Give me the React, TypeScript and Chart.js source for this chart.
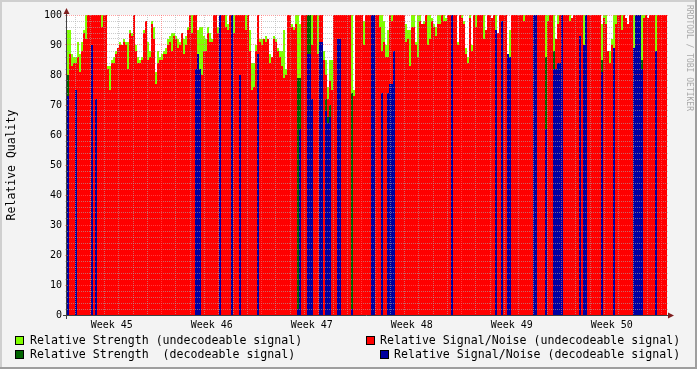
import React, { useEffect, useRef } from 'react';
import { Chart, registerables } from 'chart.js';

Chart.register(...registerables);

// One sample per ~3.4 h across six weeks (Week 45 .. Week 50).
// Undecodeable-signal samples (null = sample fully decodeable)
const snrUndec = [
  null, 87, 83, 84, 84, 86, 81, 88, 94, 92,
  100, 100, 100, 100, 100, 100, 100, 96, 100, 100,
  82, 75, 84, 84, 87, 89, 90, 90, 91, 90,
  82, 94, 93, 100, 88, 84, 84, 85, 94, 98,
  85, 86, 97, 92, 77, 84, 85, 85, 87, 87,
  90, 91, 88, 93, 92, 89, 90, 94, 87, 90,
  95, 100, 94, 100, 100, 87, 82, 80, 88, 88,
  94, 91, 91, 100, 100, 94, null, 100, 100, 96,
  95, 100, null, 94, 100, 100, 100, 100, 100, 95,
  100, 88, 75, 76, 88, 100, 91, 90, 92, 91,
  92, 84, 86, 92, 91, 88, 86, 83, 79, 80,
  100, 100, 96, 95, 97, null, null, 100, 100, 100,
  null, null, 90, 100, 100, 87, 100, 100, 85, 80,
  72, 78, 75, 100, 100, 100, 100, 100, 100, 100,
  100, 100, null, 73, 100, 100, 100, 100, 90, 100,
  100, 100, null, null, 100, 100, 96, 88, 91, 86,
  86, 100, 98, 100, 100, 100, 100, 100, 100, 91,
  92, 83, 96, 96, 90, 86, 98, 97, 97, 100,
  90, 92, 98, 96, 93, 97, 97, 100, 98, 98,
  100, 100, null, 100, 100, 90, 100, 99, 97, 87,
  84, 99, 88, 100, 96, 100, 100, 100, 92, 95,
  100, 100, 99, 100, null, 94, 100, 100, 100, 100,
  null, 85, 100, 100, 100, 100, 100, 100, 98, 100,
  100, 100, 100, null, null, 100, 100, 100, 100, null,
  98, 100, 100, null, 92, 97, 100, null, 100, 100,
  100, 98, 99, 100, 100, 100, 100, 100, null, null,
  100, 100, 100, 100, 100, 100, 100, null, 99, 97,
  88, 84, 90, null, 97, 100, 100, 95, 100, 99,
  97, 100, 100, null, null, null, null, null, 99, 100,
  99, 100, 100, 100, null, 100, 100, 100, 100, 100,
];

const strengthUndec = [
  95, 95, 87, 86, 86, 91, 87, 91, 95, 100,
  100, 100, 100, 100, 100, 100, 100, 100, 100, 100,
  83, 83, 85, 86, 88, 89, 91, 90, 92, 91,
  91, 95, 94, 100, 90, 86, 85, 86, 95, 98,
  91, 88, 98, 96, 81, 88, 86, 87, 88, 89,
  92, 93, 94, 94, 93, 92, 91, 94, 92, 93,
  96, 100, 100, 100, 100, 95, 96, 96, 93, 92,
  96, 94, 92, 100, 100, 96, null, 100, 100, 100,
  97, 100, null, 100, 100, 100, 100, 100, 100, 100,
  100, 95, 84, 84, 90, 100, 92, 92, 92, 93,
  92, 87, 86, 93, 92, 89, 88, 88, 95, 82,
  100, 100, 97, 96, 100, 100, 97, 100, 100, 100,
  null, null, 100, 100, 100, 100, 100, 100, 88, 85,
  76, 85, 85, 100, 100, 100, 100, 100, 100, 100,
  100, 100, 100, 75, 100, 100, 100, 100, 98, 100,
  100, 100, null, null, 100, 100, 100, 100, 98, 90,
  95, 100, 100, 100, 100, 100, 100, 100, 100, 97,
  95, 95, 100, 100, 91, 100, 100, 97, 98, 100,
  100, 100, 99, 97, 96, 100, 100, 100, 100, 99,
  100, 100, null, 100, 100, 91, 100, 100, 98, 89,
  86, 100, 90, 100, 100, 100, 100, 100, 100, 95,
  100, 100, 99, 100, 100, 94, 100, 100, 100, 100,
  null, 95, 100, 100, 100, 100, 100, 100, 100, 100,
  100, 100, 100, null, null, 100, 100, 100, 100, 100,
  100, 100, 100, 100, 92, 100, 100, null, 100, 100,
  100, 100, 99, 100, 100, 100, 100, 100, 100, null,
  100, 100, 100, 100, 100, 100, 100, 97, 100, 100,
  88, 88, 92, 100, 100, 100, 100, 100, 100, 99,
  97, 100, 100, 100, null, null, null, 100, 100, 100,
  99, 100, 100, 100, 100, 100, 100, 100, 100, 100,
];

// Decodeable-signal samples: sample index, S/N, strength
const decIndex = [
  0, 4, 12, 14, 64, 65, 66, 76, 82, 86,
  95, 115, 116, 120, 121, 122, 126, 127, 129, 130,
  131, 135, 136, 142, 152, 153, 157, 160, 161, 162,
  163, 192, 214, 217, 220, 221, 233, 234, 239, 243,
  244, 245, 246, 247, 256, 258, 259, 267, 273, 283,
  284, 285, 286, 287, 294,
];
const decSnr = [
  73, 75, 90, 72, 82, 87, 82, 100, 100, 80,
  87, 2, 62, 87, 87, 72, 91, 91, 68, 64,
  66, 92, 92, 2, 100, 100, 74, 74, 77, 77,
  88, 100, 95, 98, 87, 86, 100, 100, 62, 82,
  82, 84, 84, 100, 93, 90, 100, 81, 89, 89,
  100, 100, 100, 82, 88,
];
const decStrength = [
  80, 75, 90, 72, 82, 87, 82, 100, 100, 80,
  87, 79, 79, 100, 100, 72, 91, 91, 72, 66,
  70, 92, 92, 74, 100, 100, 74, 74, 77, 77,
  88, 100, 95, 98, 87, 86, 100, 100, 86, 88,
  82, 84, 84, 100, 93, 90, 100, 85, 89, 89,
  100, 100, 100, 85, 88,
];

const sampleCount = 300;
const weekLabels = ['Week 45', 'Week 46', 'Week 47', 'Week 48', 'Week 49', 'Week 50'];
const weekCenters = [21.85, 71.85, 121.85, 171.85, 221.85, 271.85]; // sample index at mid-week
const firstWeekStart = 46.85; // sample index where Week 46 begins
const samplesPerWeek = 50;

const COLORS = {
  strengthUndec: '#80FF00',
  snrUndec: '#FF0000',
  strengthDec: '#006400',
  snrDec: '#0000A0',
};

const legendItems = [
  { label: 'Relative Strength (undecodeable signal)', color: COLORS.strengthUndec, bx: 15, tx: 30, row: 0 },
  { label: 'Relative Signal/Noise (undecodeable signal)', color: COLORS.snrUndec, bx: 366, tx: 380, row: 0 },
  { label: 'Relative Strength  (decodeable signal)', color: COLORS.strengthDec, bx: 15, tx: 30, row: 1 },
  { label: 'Relative Signal/Noise (decodeable signal)', color: COLORS.snrDec, bx: 380, tx: 394, row: 1 },
];

const MONO = '"DejaVu Sans Mono", monospace';

const rrdPlugin = {
  id: 'rrdlook',
  beforeDraw(chart: any) {
    const { ctx, chartArea: a, width, height } = chart;
    ctx.save();
    ctx.fillStyle = '#F3F3F3';
    ctx.fillRect(0, 0, width, height);
    ctx.fillStyle = '#CFCFCF';
    ctx.fillRect(0, 0, width, 2);
    ctx.fillRect(0, 0, 2, height);
    ctx.fillStyle = '#9E9E9E';
    ctx.fillRect(0, height - 2, width, 2);
    ctx.fillRect(width - 2, 0, 2, height);
    ctx.fillStyle = '#FFFFFF';
    ctx.fillRect(a.left, a.top, a.right - a.left, a.bottom - a.top);
    ctx.restore();
  },
  afterDatasetsDraw(chart: any) {
    const { ctx, chartArea: a } = chart;
    const xs = chart.scales.x;
    const ys = chart.scales.y;
    ctx.save();
    ctx.lineWidth = 1;
    ctx.setLineDash([1, 1]);
    for (let v = 0; v <= 100; v += 2) {
      const py = Math.floor(ys.getPixelForValue(v)) + 0.5;
      ctx.strokeStyle = v % 10 === 0 ? 'rgba(255,96,96,0.6)' : 'rgba(170,170,170,0.6)';
      ctx.beginPath();
      ctx.moveTo(a.left - 2, py);
      ctx.lineTo(a.right + 2, py);
      ctx.stroke();
    }
    const perDay = samplesPerWeek / 7;
    for (let d = -7; d <= 42; d++) {
      const u = firstWeekStart + d * perDay;
      if (u < xs.min || u > xs.max) continue;
      const px = Math.floor(xs.getPixelForValue(u)) + 0.5;
      ctx.strokeStyle = d % 7 === 0 ? 'rgba(255,96,96,0.6)' : 'rgba(170,170,170,0.6)';
      ctx.beginPath();
      ctx.moveTo(px, a.top);
      ctx.lineTo(px, a.bottom + 2);
      ctx.stroke();
    }
    ctx.restore();
  },
  afterDraw(chart: any) {
    const { ctx, chartArea: a } = chart;
    ctx.save();
    ctx.setLineDash([]);
    ctx.lineWidth = 1;
    ctx.strokeStyle = '#404040';
    ctx.beginPath();
    ctx.moveTo(a.left - 4, a.bottom + 0.5);
    ctx.lineTo(a.right + 3, a.bottom + 0.5);
    ctx.stroke();
    ctx.beginPath();
    ctx.moveTo(a.left - 0.5, a.bottom + 4);
    ctx.lineTo(a.left - 0.5, a.top - 3);
    ctx.stroke();
    ctx.fillStyle = '#7F1F1F';
    ctx.beginPath();
    ctx.moveTo(a.left - 0.5, a.top - 7);
    ctx.lineTo(a.left - 3.5, a.top - 1);
    ctx.lineTo(a.left + 2.5, a.top - 1);
    ctx.closePath();
    ctx.fill();
    ctx.beginPath();
    ctx.moveTo(a.right + 7, a.bottom + 0.5);
    ctx.lineTo(a.right + 1, a.bottom - 2.5);
    ctx.lineTo(a.right + 1, a.bottom + 3.5);
    ctx.closePath();
    ctx.fill();

    ctx.fillStyle = '#000';
    ctx.font = '11.5px ' + MONO;
    ctx.textAlign = 'center';
    ctx.textBaseline = 'middle';
    ctx.save();
    ctx.translate(12, (a.top + a.bottom) / 2);
    ctx.rotate(-Math.PI / 2);
    ctx.fillText('Relative Quality', 0, 0);
    ctx.restore();

    ctx.save();
    ctx.fillStyle = '#A8A8A8';
    ctx.font = '8px ' + MONO;
    ctx.textAlign = 'left';
    ctx.translate(689, 5);
    ctx.rotate(Math.PI / 2);
    ctx.fillText('RRDTOOL / TOBI OETIKER', 0, 0);
    ctx.restore();

    ctx.font = '11.6px ' + MONO;
    ctx.textAlign = 'left';
    ctx.textBaseline = 'middle';
    legendItems.forEach((it) => {
      const cy = 341 + it.row * 14;
      ctx.fillStyle = it.color;
      ctx.fillRect(it.bx, cy - 5, 9, 9);
      ctx.strokeStyle = '#000';
      ctx.strokeRect(it.bx + 0.5, cy - 4.5, 8, 8);
      ctx.fillStyle = '#000';
      ctx.fillText(it.label, it.tx, cy);
    });
    ctx.restore();
  },
};

export default function App() {
  const ref = useRef<HTMLCanvasElement>(null);
  useEffect(() => {
    const full = (src: (number | null)[]) => src.map((v, i) => ({ x: i, y: v }));
    const sparse = (src: number[]) => decIndex.map((ix, k) => ({ x: ix, y: src[k] }));
    const chart = new Chart(ref.current as HTMLCanvasElement, {
      type: 'bar',
      data: {
        datasets: [
          { label: 'Relative Signal/Noise (decodeable signal)', data: sparse(decSnr) as any, backgroundColor: COLORS.snrDec, order: 0 },
          { label: 'Relative Strength  (decodeable signal)', data: sparse(decStrength) as any, backgroundColor: COLORS.strengthDec, order: 1 },
          { label: 'Relative Signal/Noise (undecodeable signal)', data: full(snrUndec) as any, backgroundColor: COLORS.snrUndec, order: 2 },
          { label: 'Relative Strength (undecodeable signal)', data: full(strengthUndec) as any, backgroundColor: COLORS.strengthUndec, order: 3 },
        ],
      },
      options: {
        responsive: false,
        maintainAspectRatio: false,
        animation: false,
        devicePixelRatio: 1,
        layout: { padding: { top: 15, right: 30, left: 0, bottom: 0 } },
        plugins: { legend: { display: false }, tooltip: { enabled: false } },
        datasets: {
          bar: {
            grouped: false,
            barPercentage: 1,
            categoryPercentage: 1,
            borderWidth: 0,
            inflateAmount: 0,
          } as any,
        },
        scales: {
          x: {
            type: 'linear',
            min: -0.5,
            max: sampleCount - 0.5,
            offset: false,
            grid: { display: false, drawTicks: false, offset: false },
            border: { display: false },
            afterBuildTicks: (s: any) => {
              s.ticks = weekCenters.map((v) => ({ value: v }));
            },
            afterFit: (s: any) => {
              s.height = 54;
            },
            ticks: {
              autoSkip: false,
              maxRotation: 0,
              minRotation: 0,
              padding: 4,
              color: '#000',
              font: { family: MONO, size: 10 },
              callback: (_v: any, i: number) => weekLabels[i],
            },
          },
          y: {
            min: 0,
            max: 100,
            grid: { display: false, drawTicks: false },
            border: { display: false },
            afterFit: (s: any) => {
              s.width = 67;
            },
            ticks: {
              stepSize: 10,
              padding: 5,
              color: '#000',
              font: { family: MONO, size: 10 },
            },
          },
        },
      } as any,
      plugins: [rrdPlugin],
    });
    return () => chart.destroy();
  }, []);
  return (
    <div style={{ position: 'fixed', left: 0, top: 0, width: 697, height: 369 }}>
      <canvas ref={ref} width={697} height={369} style={{ display: 'block', width: 697, height: 369 }} />
    </div>
  );
}
